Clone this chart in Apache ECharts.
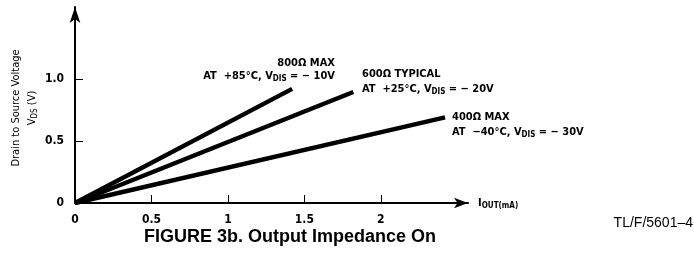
<!DOCTYPE html>
<html>
<head>
<meta charset="utf-8">
<script src="https://cdn.jsdelivr.net/npm/echarts@6/dist/echarts.min.js"></script>
<style>
  html, body { margin: 0; padding: 0; background: #fff; }
  #chart { width: 694px; height: 254px; }
</style>
</head>
<body>
<div id="chart"></div>
<script>
// 读图估计的数据 (I_OUT mA, V_DS V)
const max800X = [0, 1.42]
const max800Y = [0, 0.92]
const typ600X = [0, 1.82]
const typ600Y = [0, 0.895]
const max400X = [0, 2.42]
const max400Y = [0, 0.69]

const xTicks = [0, 0.5, 1, 1.5, 2]
const yTicks = [0, 0.5, 1.0]
const yTickLabels = ['0', '0.5', '1.0']

const narrow = '"Liberation Sans Narrow", "DejaVu Sans Condensed", Arial, sans-serif'
const ink = '#000'

const chart = echarts.init(document.getElementById('chart'))

const pairs = (xs, ys) => xs.map((x, i) => [x, ys[i]])

const lineSeries = (name, data) => ({
  name,
  type: 'line',
  data,
  showSymbol: false,
  lineStyle: { color: ink, width: 4.5 },
  emphasis: { disabled: true },
  silent: true,
  z: 3,
})

// 注释文字 (带下标)
const rich = {
  b: { fontFamily: narrow, fontWeight: 'bold', fontSize: 11, color: ink },
  s: { fontFamily: narrow, fontWeight: 'bold', fontSize: 8, color: ink, padding: [5, 0, 0, 0] },
}

function note(x, y, text, align) {
  return {
    type: 'text',
    x, y,
    style: { text, rich, align: align || 'left', verticalAlign: 'middle' },
  }
}

chart.setOption({
  animation: false,
  grid: { left: 75, top: 7, width: 393, height: 196 },
  xAxis: {
    type: 'value',
    min: 0,
    max: 2.57,
    axisLine: { show: true, symbol: ['none', 'arrow'], symbolSize: [8, 14], lineStyle: { color: ink, width: 2 } },
    axisTick: { show: true, inside: true, length: 8, customValues: xTicks, lineStyle: { color: ink, width: 1 } },
    axisLabel: {
      customValues: xTicks,
      margin: 11,
      color: ink,
      fontFamily: narrow,
      fontWeight: 'bold',
      fontSize: 12,
      formatter: v => String(v),
    },
    splitLine: { show: false },
  },
  yAxis: {
    type: 'value',
    min: 0,
    max: 1.58,
    axisLine: { show: true, symbol: ['none', 'arrow'], symbolSize: [8, 16], lineStyle: { color: ink, width: 2 } },
    axisTick: { show: true, inside: true, length: 8, customValues: yTicks, lineStyle: { color: ink, width: 1 } },
    axisLabel: {
      customValues: yTicks,
      margin: 11,
      color: ink,
      fontFamily: narrow,
      fontWeight: 'bold',
      fontSize: 12,
      formatter: v => yTickLabels[yTicks.indexOf(v)] ?? '',
    },
    splitLine: { show: false },
  },
  series: [
    lineSeries('800Ω MAX', pairs(max800X, max800Y)),
    lineSeries('600Ω TYPICAL', pairs(typ600X, typ600Y)),
    lineSeries('400Ω MAX', pairs(max400X, max400Y)),
  ],
  graphic: [
    note(335, 63, '{b|800Ω MAX}', 'right'),
    note(335, 76, '{b|AT  +85°C, V}{s|DIS}{b| = − 10V}', 'right'),
    note(362, 74, '{b|600Ω TYPICAL}'),
    note(362, 89, '{b|AT  +25°C, V}{s|DIS}{b| = − 20V}'),
    note(452, 117, '{b|400Ω MAX}'),
    note(452, 132, '{b|AT  −40°C, V}{s|DIS}{b| = − 30V}'),
    note(478, 203, '{b|I}{s|OUT(mA)}'),
    {
      type: 'text',
      x: 24,
      y: 108,
      rotation: Math.PI / 2,
      style: {
        text: '{b|Drain to Source Voltage}\n{b|V}{s|DS}{b| (V)}',
        rich: {
          b: { fontFamily: narrow, fontSize: 11, color: ink, lineHeight: 16, align: 'center' },
          s: { fontFamily: narrow, fontSize: 8, color: ink, padding: [5, 0, 0, 0] },
        },
        align: 'center',
        verticalAlign: 'middle',
      },
    },
    {
      type: 'text',
      x: 290,
      y: 237,
      style: {
        text: 'FIGURE 3b. Output Impedance On',
        fontFamily: 'Liberation Sans, Arial, sans-serif',
        fontWeight: 'bold',
        fontSize: 18,
        fill: ink,
        align: 'center',
        verticalAlign: 'middle',
      },
    },
    {
      type: 'text',
      x: 693,
      y: 223,
      style: {
        text: 'TL/F/5601–4',
        fontFamily: 'Liberation Sans, Arial, sans-serif',
        fontSize: 14,
        fill: ink,
        align: 'right',
        verticalAlign: 'middle',
      },
    },
  ],
})
</script>
</body>
</html>
